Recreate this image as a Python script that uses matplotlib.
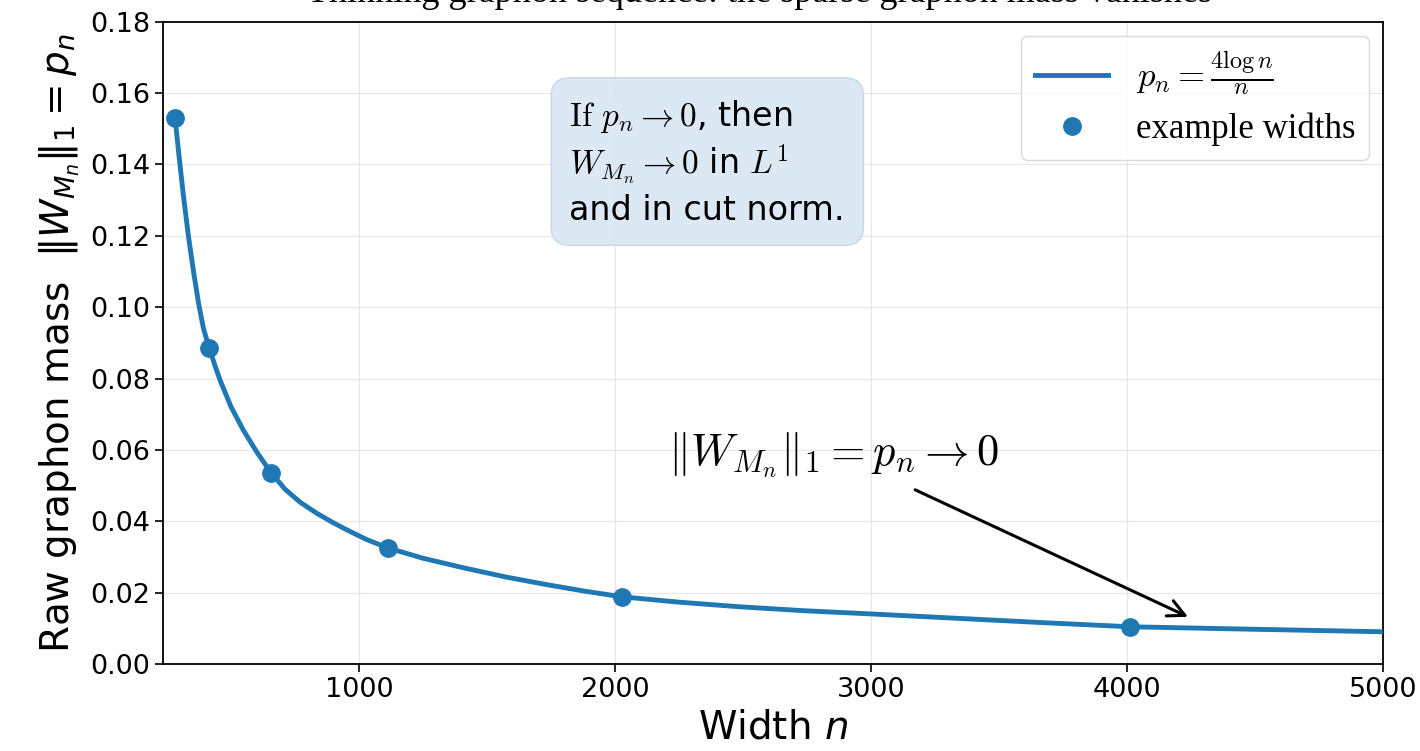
import matplotlib
matplotlib.use("Agg")
import matplotlib.pyplot as plt

# curve p_n
curve_n = [281, 297, 314, 333, 353, 373, 392, 414, 435, 457, 500, 547, 600,
           656, 710, 770, 835, 898, 965, 1031, 1113, 1250, 1410, 1570, 1734,
           1880, 2027, 2250, 2488, 2740, 3000, 3330, 3660, 4012, 4500, 5000]
curve_p = [0.153, 0.142, 0.131, 0.120, 0.110, 0.101, 0.094, 0.0886, 0.084,
           0.0795, 0.0720, 0.0656, 0.0594, 0.0536, 0.0490, 0.0453, 0.0422,
           0.0396, 0.0371, 0.0348, 0.0325, 0.0296, 0.0269, 0.0244, 0.0222,
           0.0204, 0.0188, 0.0173, 0.0160, 0.0149, 0.0140, 0.0128, 0.0116,
           0.0104, 0.0097, 0.0090]

# highlighted example widths
example_n = [281, 414, 656, 1113, 2027, 4012]
example_p = [0.153, 0.0886, 0.0536, 0.0325, 0.0188, 0.0104]

x_ticks = [1000, 2000, 3000, 4000, 5000]
y_ticks = [0.00, 0.02, 0.04, 0.06, 0.08, 0.10, 0.12, 0.14, 0.16, 0.18]

blue = "#1f77b4"

fig = plt.figure(figsize=(14.2, 7.51), dpi=100)
ax = fig.add_axes([0.115, 0.116, 0.859, 0.855])

ax.plot(curve_n, curve_p, color=blue, lw=3.5, label=r"$p_n = \frac{4\log n}{n}$",
        zorder=3, solid_joinstyle="round")
ax.plot(example_n, example_p, "o", color=blue, ms=12.5, label="example widths", zorder=4)

ax.set_xlim(235, 5000)
ax.set_ylim(0, 0.18)
ax.set_xticks(x_ticks)
ax.set_yticks(y_ticks)
ax.set_yticklabels([f"{v:.2f}" for v in y_ticks])
ax.tick_params(labelsize=19.5, length=6, width=1.2)
ax.grid(True, alpha=0.3)
for s in ax.spines.values():
    s.set_linewidth(1.3)

ax.set_xlabel("Width $n$", fontsize=28, labelpad=4)
ax.set_ylabel(r"Raw graphon mass  $\|W_{M_n}\|_1 = p_n$", fontsize=28, labelpad=6)

leg = ax.legend(loc="upper right", fontsize=25, borderaxespad=0.4,
                handlelength=2.1, labelspacing=0.45, edgecolor="lightgrey",
                framealpha=0.85)
for t in leg.get_texts():
    t.set_family("Liberation Serif")
    t.set_math_fontfamily("cm")

ax.text(0.333, 0.881, "$\\mathrm{If}$ $p_n \\to 0$, then\n$W_{M_n} \\to 0$ in $L^1$\nand in cut norm.",
        transform=ax.transAxes, fontsize=24, ha="left", va="top", math_fontfamily="cm",
        linespacing=1.25,
        bbox=dict(boxstyle="round,pad=0.55", facecolor="#d9e6f2", edgecolor="#c3d5e6", alpha=0.9))

ax.text(2207, 0.0586, r"$\|W_{M_n}\|_1 = p_n \to 0$", fontsize=32, ha="left", va="center",
        math_fontfamily="cm")
ax.annotate("", xy=(4238, 0.0132), xytext=(3172, 0.0488),
            arrowprops=dict(arrowstyle="->", lw=2.2, color="black",
                            mutation_scale=30, shrinkA=0, shrinkB=0))

# title sits mostly above the canvas in the reference
fig.text(0.535, 0.997, "Thinning graphon sequence: the sparse graphon mass vanishes",
         ha="center", va="baseline", fontsize=26, family="Liberation Serif")

fig.savefig("out.png", dpi=100)
